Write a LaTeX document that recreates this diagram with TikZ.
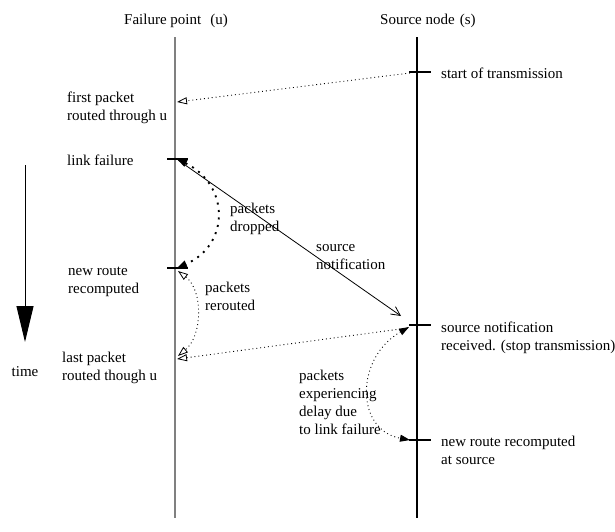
\documentclass[tikz,border=0pt]{standalone}
\usepackage{fontspec}
\setmainfont{Liberation Serif}
\usetikzlibrary{arrows.meta}
\begin{document}
\begin{tikzpicture}[x=1pt,y=-1pt,
  lbl/.style={anchor=base west, inner sep=0pt, font=\fontsize{15}{18}\selectfont},
  tickmark/.style={line width=2.4pt},
  dots/.style={line width=0.9pt, dash pattern=on 0.9pt off 3pt},
  bigdots/.style={line width=1.9pt, dash pattern=on 2pt off 5.5pt},
  fullboth/.style={{Triangle[length=10pt,width=7pt]}-{Triangle[length=10pt,width=7pt]}},
  fullend/.style={-{Triangle[length=10pt,width=7pt]}},
  openend/.style={-{Triangle[open,length=10pt,width=7pt,line width=0.8pt]}},
  openboth/.style={{Triangle[open,length=10pt,width=7pt,line width=0.8pt]}-{Triangle[open,length=10pt,width=7pt,line width=0.8pt]}},
  stickend/.style={-{Straight Barb[length=9pt,width=9pt,line width=0.8pt]}},
]
\useasboundingbox (0,0) rectangle (615,531);

% time lines
\coordinate (uTop) at (175,37); \coordinate (uBot) at (175,518);
\coordinate (sTop) at (417,37); \coordinate (sBot) at (417,518);
\draw[gray, line width=1.6pt] (uTop) -- (uBot);
\draw[line width=1.4pt] (sTop) -- (sBot);

% tick marks
\coordinate (uA1) at (167,159); \coordinate (uA2) at (188,159);
\coordinate (uB1) at (167,268); \coordinate (uB2) at (188,268);
\coordinate (s0a) at (409,72); \coordinate (s0b) at (431,72);
\coordinate (s1a) at (409,325); \coordinate (s1b) at (431,325);
\coordinate (s2a) at (409,440); \coordinate (s2b) at (431,440);
\draw[tickmark] (uA1) -- (uA2);
\draw[tickmark] (uB1) -- (uB2);
\draw[tickmark] (s0a) -- (s0b);
\draw[tickmark] (s1a) -- (s1b);
\draw[tickmark] (s2a) -- (s2b);

% connectors
\coordinate (startTx) at (410,73);
\coordinate (firstPk) at (177,102);
\draw[dots, openend] (startTx) -- (firstPk);

\coordinate (failPt) at (178,160);
\coordinate (notifEnd) at (401,316);
\draw[line width=0.8pt, stickend] (failPt) -- (notifEnd);

\coordinate (dropTop) at (177,159);
\coordinate (dropBot) at (177,268);
\draw[bigdots, fullboth] (dropTop) .. controls (230,185) and (230,245) .. (dropBot);

\coordinate (recvPt) at (408,328);
\coordinate (lastPk) at (177,359);
\draw[dots, openend] (recvPt) -- (lastPk);

\coordinate (rerTop) at (178,271);
\coordinate (rerBot) at (178,356);
\draw[dots, openboth] (rerTop) .. controls (203,290) and (203,335) .. (rerBot);

\coordinate (delTop) at (409,327);
\coordinate (delBot) at (410,440);
\draw[dots, fullboth] (delTop) .. controls (355,358) and (355,430) .. (delBot);

% time arrow
\coordinate (timeTop) at (25,165);
\coordinate (timeTip) at (25,342);
\draw[line width=1pt, -{Triangle[length=36pt,width=17pt]}] (timeTop) -- (timeTip);

% texts
\node[lbl] (hdrU) at (124,24) {Failure point\hspace{9pt}(u)};
\node[lbl] (hdrS) at (380,24) {Source node\hspace{5pt}(s)};
\node[lbl] (txStart) at (441,78) {start of transmission};
\node[lbl] (fp1) at (67,102) {first packet};
\node[lbl] (fp2) at (67,120) {routed through u};
\node[lbl] (lf) at (67,165) {link failure};
\node[lbl] (pd1) at (230,213) {packets};
\node[lbl] (pd2) at (230,231) {dropped};
\node[lbl] (sn1) at (316,251) {source};
\node[lbl] (sn2) at (316,269) {notification};
\node[lbl] (nr1) at (68,275) {new route};
\node[lbl] (nr2) at (68,293) {recomputed};
\node[lbl] (pr1) at (205,292) {packets};
\node[lbl] (pr2) at (205,310) {rerouted};
\node[lbl] (snr1) at (441,332) {source notification};
\node[lbl] (snr2) at (441,350) {received. (stop transmission)};
\node[lbl] (lp1) at (62,362) {last packet};
\node[lbl] (lp2) at (62,380) {routed though u};
\node[lbl, anchor=base] (tm) at (25,376) {time};
\node[lbl] (pe1) at (299,380) {packets};
\node[lbl] (pe2) at (299,398) {experiencing};
\node[lbl] (pe3) at (299,416) {delay due};
\node[lbl] (pe4) at (299,434) {to link failure};
\node[lbl] (nrs1) at (441,446) {new route recomputed};
\node[lbl] (nrs2) at (441,464) {at source};
\end{tikzpicture}
\end{document}
